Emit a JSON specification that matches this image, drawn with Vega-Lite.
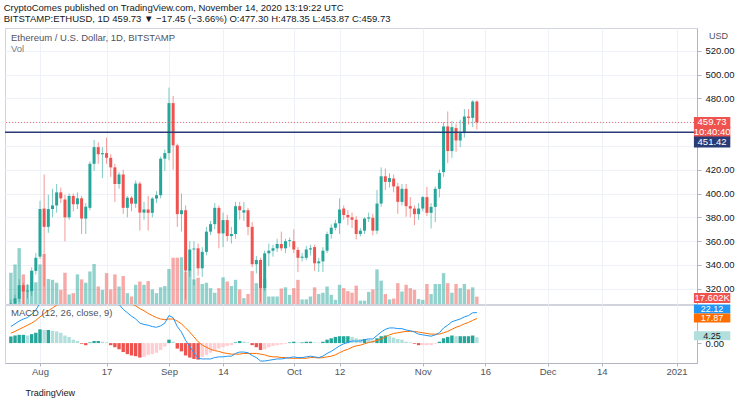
{
  "$schema": "https://vega.github.io/schema/vega-lite/v6.json",
  "background": "white",
  "padding": {"left": 3, "top": 2, "right": 0, "bottom": 0},
  "config": {
    "font": "Liberation Sans Narrow, Liberation Sans, sans-serif",
    "view": {"stroke": "#d1d4dc"},
    "axis": {"labelFont": "Liberation Sans Narrow, Liberation Sans, sans-serif", "titleFont": "Liberation Sans Narrow, Liberation Sans, sans-serif", "labelOverlap": false}
  },
  "title": {
    "text": "CryptoComes published on TradingView.com, November 14, 2020 13:19:22 UTC",
    "subtitle": "BITSTAMP:ETHUSD, 1D  459.73 ▼ −17.45 (−3.66%)  O:477.30  H:478.35  L:453.87  C:459.73",
    "anchor": "start",
    "fontSize": 9.5,
    "fontWeight": "normal",
    "color": "#131722",
    "subtitleFontSize": 9.5,
    "subtitleColor": "#131722",
    "subtitlePadding": 2,
    "offset": 4
  },
  "spacing": -5,
  "datasets": {
    "eth": [
      {"d":"2020-07-25","o":304,"h":311,"l":301,"c":307.5,"v":75,"m":12,"s":7.2,"hi":4.8},
      {"d":"2020-07-26","o":307.5,"h":315,"l":305,"c":312,"v":95,"m":14,"s":8.5,"hi":5.5},
      {"d":"2020-07-27","o":311.6,"h":328,"l":309,"c":323,"v":134,"m":16,"s":10,"hi":6},
      {"d":"2020-07-28","o":323,"h":325,"l":307,"c":317.7,"v":71,"m":17.5,"s":11.5,"hi":6},
      {"d":"2020-07-29","o":317.7,"h":324,"l":312,"c":318.5,"v":46,"m":18.5,"s":13,"hi":5.5},
      {"d":"2020-07-30","o":318,"h":338,"l":314,"c":335,"v":80,"m":21,"s":14.5,"hi":6.5},
      {"d":"2020-07-31","o":335,"h":350,"l":332,"c":346,"v":52,"m":24,"s":16.5,"hi":7.5},
      {"d":"2020-08-01","o":347,"h":394,"l":345,"c":387,"v":95,"m":29,"s":19,"hi":10},
      {"d":"2020-08-02","o":387.4,"h":416,"l":322,"c":372,"v":120,"m":31,"s":21.5,"hi":9.5},
      {"d":"2020-08-03","o":372,"h":399,"l":367,"c":387,"v":60,"m":33,"s":23.5,"hi":9.5},
      {"d":"2020-08-04","o":387,"h":404,"l":380,"c":390,"v":58,"m":34.5,"s":25.5,"hi":9},
      {"d":"2020-08-05","o":390,"h":408,"l":384,"c":401,"v":51,"m":36,"s":27.5,"hi":8.5},
      {"d":"2020-08-06","o":401,"h":405,"l":392,"c":396,"v":34,"m":36.5,"s":29,"hi":7.5},
      {"d":"2020-08-07","o":395,"h":399,"l":360,"c":380,"v":75,"m":35.5,"s":30,"hi":5.5},
      {"d":"2020-08-08","o":380,"h":400,"l":378,"c":398,"v":23,"m":35.5,"s":31,"hi":4.5},
      {"d":"2020-08-09","o":398,"h":400,"l":385,"c":391,"v":26,"m":34.5,"s":32,"hi":2.5},
      {"d":"2020-08-10","o":391,"h":401,"l":387,"c":396,"v":71,"m":34,"s":32.5,"hi":1.5},
      {"d":"2020-08-11","o":396,"h":398,"l":366,"c":379,"v":59,"m":32,"s":32.5,"hi":-0.5},
      {"d":"2020-08-12","o":379,"h":392,"l":366,"c":389,"v":51,"m":31,"s":32.5,"hi":-1.5},
      {"d":"2020-08-13","o":388,"h":427,"l":386,"c":425,"v":78,"m":33,"s":32.5,"hi":0.5},
      {"d":"2020-08-14","o":425,"h":445,"l":419,"c":439,"v":96,"m":34.5,"s":33,"hi":1.5},
      {"d":"2020-08-15","o":439,"h":443,"l":425,"c":433,"v":42,"m":35,"s":33.5,"hi":1.5},
      {"d":"2020-08-16","o":433,"h":439,"l":413,"c":434,"v":34,"m":34.5,"s":33.5,"hi":1},
      {"d":"2020-08-17","o":434,"h":447,"l":425,"c":430,"v":74,"m":34,"s":33.5,"hi":0.5},
      {"d":"2020-08-18","o":430,"h":433,"l":414,"c":422,"v":35,"m":32,"s":33.5,"hi":-1.5},
      {"d":"2020-08-19","o":422,"h":425,"l":393,"c":408,"v":71,"m":30,"s":33,"hi":-3},
      {"d":"2020-08-20","o":408,"h":418,"l":404,"c":416,"v":42,"m":28,"s":32.5,"hi":-4.5},
      {"d":"2020-08-21","o":416,"h":420,"l":383,"c":388,"v":67,"m":24.5,"s":31,"hi":-6.5},
      {"d":"2020-08-22","o":388,"h":398,"l":380,"c":396.5,"v":26,"m":22,"s":30,"hi":-8},
      {"d":"2020-08-23","o":396.5,"h":398,"l":385,"c":391.5,"v":18,"m":19.5,"s":28.5,"hi":-9},
      {"d":"2020-08-24","o":391.5,"h":411,"l":388,"c":408.4,"v":46,"m":17.5,"s":27,"hi":-9.5},
      {"d":"2020-08-25","o":408.4,"h":410,"l":369,"c":384,"v":54,"m":14.5,"s":25,"hi":-10.5},
      {"d":"2020-08-26","o":384,"h":393,"l":378,"c":386.6,"v":46,"m":13.5,"s":23.5,"hi":-10},
      {"d":"2020-08-27","o":386.6,"h":398,"l":369,"c":383.8,"v":55,"m":13,"s":21.5,"hi":-8.5},
      {"d":"2020-08-28","o":383.8,"h":397,"l":380,"c":395.8,"v":35,"m":12,"s":20,"hi":-8},
      {"d":"2020-08-29","o":395.8,"h":402,"l":392,"c":398.6,"v":26,"m":11.5,"s":18.5,"hi":-7},
      {"d":"2020-08-30","o":398.6,"h":431,"l":396,"c":429.3,"v":40,"m":12.5,"s":17.5,"hi":-5},
      {"d":"2020-08-31","o":429.3,"h":437,"l":419,"c":434,"v":43,"m":14.5,"s":17,"hi":-2.5},
      {"d":"2020-09-01","o":434,"h":489,"l":428,"c":476,"v":84,"m":20,"s":17.5,"hi":2.5},
      {"d":"2020-09-02","o":476,"h":482,"l":420,"c":440.5,"v":111,"m":18.5,"s":17.5,"hi":1},
      {"d":"2020-09-03","o":440.5,"h":442,"l":372,"c":382.7,"v":111,"m":12,"s":16,"hi":-4},
      {"d":"2020-09-04","o":382.7,"h":400,"l":368,"c":386,"v":112,"m":8,"s":14,"hi":-6},
      {"d":"2020-09-05","o":386,"h":390,"l":311,"c":335.3,"v":78,"m":2,"s":11,"hi":-9},
      {"d":"2020-09-06","o":335.3,"h":360,"l":330,"c":353,"v":83,"m":-2.5,"s":8,"hi":-10.5},
      {"d":"2020-09-07","o":353,"h":360,"l":323,"c":353.8,"v":59,"m":-7,"s":4.5,"hi":-11.5},
      {"d":"2020-09-08","o":354,"h":358,"l":331,"c":337.2,"v":63,"m":-11,"s":1,"hi":-12},
      {"d":"2020-09-09","o":337.2,"h":355,"l":330,"c":351,"v":48,"m":-11.5,"s":-1.5,"hi":-10},
      {"d":"2020-09-10","o":351,"h":372,"l":348,"c":368,"v":51,"m":-11.5,"s":-3,"hi":-8.5},
      {"d":"2020-09-11","o":368,"h":377,"l":365,"c":374.3,"v":38,"m":-11.5,"s":-4.5,"hi":-7},
      {"d":"2020-09-12","o":374.3,"h":392,"l":370,"c":388,"v":27,"m":-10.5,"s":-5.5,"hi":-5},
      {"d":"2020-09-13","o":388,"h":390,"l":354,"c":366.5,"v":38,"m":-10,"s":-6,"hi":-4},
      {"d":"2020-09-14","o":366.5,"h":384,"l":355,"c":377.7,"v":64,"m":-10,"s":-7,"hi":-3},
      {"d":"2020-09-15","o":377.7,"h":382,"l":360,"c":364.3,"v":54,"m":-9.5,"s":-7.5,"hi":-2},
      {"d":"2020-09-16","o":364.3,"h":372,"l":358,"c":366,"v":43,"m":-9.5,"s":-8,"hi":-1.5},
      {"d":"2020-09-17","o":366,"h":393,"l":362,"c":389.4,"v":58,"m":-7.5,"s":-8,"hi":0.5},
      {"d":"2020-09-18","o":389.4,"h":393,"l":378,"c":386,"v":35,"m":-6.5,"s":-8,"hi":1.5},
      {"d":"2020-09-19","o":384,"h":393,"l":377,"c":386,"v":14,"m":-6.5,"s":-7.5,"hi":1},
      {"d":"2020-09-20","o":386,"h":388,"l":365,"c":372,"v":24,"m":-7,"s":-7.5,"hi":0.5},
      {"d":"2020-09-21","o":372,"h":376,"l":338,"c":340.6,"v":79,"m":-9,"s":-7.5,"hi":-1.5},
      {"d":"2020-09-22","o":340.6,"h":347.5,"l":333,"c":344.2,"v":50,"m":-10.5,"s":-7.5,"hi":-3},
      {"d":"2020-09-23","o":344.2,"h":346,"l":309,"c":320.5,"v":38,"m":-13,"s":-8,"hi":-5},
      {"d":"2020-09-24","o":320.5,"h":352,"l":318,"c":349.8,"v":60,"m":-13,"s":-8.5,"hi":-4.5},
      {"d":"2020-09-25","o":349.8,"h":358,"l":339,"c":352,"v":18,"m":-12.5,"s":-9.5,"hi":-3},
      {"d":"2020-09-26","o":352,"h":357,"l":347,"c":354,"v":18,"m":-12,"s":-10,"hi":-2},
      {"d":"2020-09-27","o":354,"h":362,"l":351,"c":357.6,"v":18,"m":-11.5,"s":-10,"hi":-1.5},
      {"d":"2020-09-28","o":357.6,"h":368,"l":352,"c":354,"v":37,"m":-11.5,"s":-10.5,"hi":-1},
      {"d":"2020-09-29","o":354,"h":362,"l":350,"c":360,"v":40,"m":-11,"s":-10.5,"hi":-0.5},
      {"d":"2020-09-30","o":360,"h":363,"l":355,"c":360.8,"v":22,"m":-10.5,"s":-11,"hi":0.5},
      {"d":"2020-10-01","o":360,"h":370,"l":350,"c":353,"v":38,"m":-10,"s":-11,"hi":1},
      {"d":"2020-10-02","o":352.6,"h":355,"l":334,"c":346,"v":58,"m":-10.5,"s":-11,"hi":0.5},
      {"d":"2020-10-03","o":346,"h":350,"l":343,"c":347,"v":11,"m":-10.5,"s":-11,"hi":0.5},
      {"d":"2020-10-04","o":346,"h":356,"l":344,"c":353,"v":11,"m":-10,"s":-11,"hi":1},
      {"d":"2020-10-05","o":353,"h":357,"l":348,"c":354,"v":18,"m":-9.5,"s":-10.5,"hi":1},
      {"d":"2020-10-06","o":355,"h":357,"l":335,"c":341.4,"v":40,"m":-10,"s":-10.5,"hi":0.5},
      {"d":"2020-10-07","o":341.4,"h":346,"l":334,"c":343,"v":24,"m":-10.5,"s":-10.8,"hi":0.3},
      {"d":"2020-10-08","o":343,"h":355,"l":334,"c":352,"v":27,"m":-9.5,"s":-10.5,"hi":1},
      {"d":"2020-10-09","o":352,"h":368,"l":350,"c":366,"v":42,"m":-7.5,"s":-10,"hi":2.5},
      {"d":"2020-10-10","o":366,"h":374,"l":362,"c":371.3,"v":22,"m":-6,"s":-9.5,"hi":3.5},
      {"d":"2020-10-11","o":371.3,"h":378,"l":369,"c":375,"v":10,"m":-4,"s":-8.5,"hi":4.5},
      {"d":"2020-10-12","o":375,"h":396,"l":366,"c":386.6,"v":46,"m":-2,"s":-7,"hi":5},
      {"d":"2020-10-13","o":387.4,"h":390,"l":378,"c":382,"v":38,"m":-0.5,"s":-5.5,"hi":5},
      {"d":"2020-10-14","o":382,"h":386,"l":373.5,"c":380,"v":31,"m":0.5,"s":-4.5,"hi":5},
      {"d":"2020-10-15","o":380,"h":384,"l":371,"c":378,"v":27,"m":1.5,"s":-3,"hi":4.5},
      {"d":"2020-10-16","o":378,"h":381,"l":361.5,"c":366,"v":44,"m":1.5,"s":-2,"hi":3.5},
      {"d":"2020-10-17","o":366,"h":371,"l":364,"c":368.8,"v":8,"m":1.5,"s":-1.5,"hi":3},
      {"d":"2020-10-18","o":368.8,"h":380,"l":366,"c":379,"v":8,"m":2.5,"s":-0.5,"hi":3},
      {"d":"2020-10-19","o":379,"h":384,"l":376,"c":380,"v":29,"m":3,"s":0.5,"hi":2.5},
      {"d":"2020-10-20","o":379.6,"h":383,"l":365,"c":368.8,"v":35,"m":3,"s":1,"hi":2},
      {"d":"2020-10-21","o":368.8,"h":403,"l":366,"c":391.6,"v":83,"m":5.5,"s":2,"hi":3.5},
      {"d":"2020-10-22","o":391.6,"h":422,"l":389,"c":414.5,"v":56,"m":8,"s":3,"hi":5},
      {"d":"2020-10-23","o":414.5,"h":421,"l":403,"c":409.8,"v":24,"m":10,"s":4.5,"hi":5.5},
      {"d":"2020-10-24","o":409.8,"h":417,"l":405,"c":413,"v":11,"m":11,"s":6,"hi":5},
      {"d":"2020-10-25","o":412.6,"h":416,"l":401,"c":406,"v":13,"m":11,"s":7,"hi":4},
      {"d":"2020-10-26","o":406,"h":409,"l":383,"c":393,"v":50,"m":10.5,"s":7.5,"hi":3},
      {"d":"2020-10-27","o":393,"h":408,"l":390,"c":404,"v":30,"m":10.5,"s":8,"hi":2.5},
      {"d":"2020-10-28","o":404,"h":408,"l":380.5,"c":389.4,"v":46,"m":9.5,"s":8.5,"hi":1},
      {"d":"2020-10-29","o":389.4,"h":397,"l":380,"c":387.4,"v":38,"m":9,"s":8.5,"hi":0.5},
      {"d":"2020-10-30","o":387.4,"h":390,"l":373.5,"c":382.7,"v":34,"m":8,"s":8.5,"hi":-0.5},
      {"d":"2020-10-31","o":382.7,"h":392,"l":378,"c":387.4,"v":12,"m":6.5,"s":8,"hi":-1.5},
      {"d":"2020-11-01","o":387.4,"h":398,"l":385,"c":397,"v":10,"m":6,"s":7.5,"hi":-1.5},
      {"d":"2020-11-02","o":397,"h":405.6,"l":381,"c":383.8,"v":48,"m":5.5,"s":7,"hi":-1.5},
      {"d":"2020-11-03","o":383.8,"h":392,"l":370.7,"c":388.8,"v":24,"m":5,"s":6.5,"hi":-1.5},
      {"d":"2020-11-04","o":388.8,"h":406,"l":376,"c":404,"v":48,"m":6,"s":6.5,"hi":-0.5},
      {"d":"2020-11-05","o":404,"h":420,"l":396.7,"c":417.3,"v":48,"m":7.5,"s":6.5,"hi":1},
      {"d":"2020-11-06","o":418,"h":460,"l":414,"c":456.4,"v":74,"m":11,"s":7.5,"hi":3.5},
      {"d":"2020-11-07","o":456.4,"h":469,"l":425.7,"c":435.7,"v":50,"m":13,"s":8.5,"hi":4.5},
      {"d":"2020-11-08","o":435.7,"h":460.8,"l":430,"c":455.8,"v":27,"m":15.5,"s":10,"hi":5.5},
      {"d":"2020-11-09","o":455,"h":458.6,"l":435,"c":444.6,"v":48,"m":16.5,"s":11.5,"hi":5},
      {"d":"2020-11-10","o":444.6,"h":462,"l":439,"c":450.8,"v":38,"m":17.5,"s":12.5,"hi":5},
      {"d":"2020-11-11","o":450.8,"h":471,"l":447,"c":464.7,"v":48,"m":19,"s":14,"hi":5},
      {"d":"2020-11-12","o":464.7,"h":471,"l":458,"c":463.6,"v":35,"m":20,"s":15,"hi":5},
      {"d":"2020-11-13","o":463.6,"h":478.5,"l":455.8,"c":477.3,"v":40,"m":22,"s":16.5,"hi":5.5},
      {"d":"2020-11-14","o":477.3,"h":478.35,"l":453.87,"c":459.73,"v":17.602,"m":22.12,"s":17.87,"hi":4.25}
    ]
  },
  "vconcat": [
    {
      "width": 692,
      "height": 276,
      "data": {"name": "eth"},
      "title": {
        "text": "Ethereum / U.S. Dollar, 1D, BITSTAMP",
        "subtitle": "Vol",
        "anchor": "start",
        "frame": "group",
        "orient": "top",
        "offset": -25,
        "dx": 6,
        "fontSize": 9.5,
        "fontWeight": "normal",
        "color": "#50535e",
        "subtitleFontSize": 9.5,
        "subtitleColor": "#787b86",
        "subtitlePadding": 1
      },
      "layer": [
        {
          "mark": {"type": "bar", "size": 3.4, "opacity": 0.5, "clip": true},
          "encoding": {
            "x": {"field": "d", "type": "temporal",
              "scale": {"type": "utc", "domain": [{"year": 2020, "month": 7, "date": 24, "hours": 19, "utc": true}, {"year": 2021, "month": 1, "date": 4, "hours": 17, "utc": true}]},
              "axis": {"orient": "bottom", "values": [{"year":2020,"month":8,"date":1,"utc":true},{"year":2020,"month":8,"date":17,"utc":true},{"year":2020,"month":9,"date":1,"utc":true},{"year":2020,"month":9,"date":14,"utc":true},{"year":2020,"month":10,"date":1,"utc":true},{"year":2020,"month":10,"date":12,"utc":true},{"year":2020,"month":11,"date":1,"utc":true},{"year":2020,"month":11,"date":16,"utc":true},{"year":2020,"month":12,"date":1,"utc":true},{"year":2020,"month":12,"date":14,"utc":true},{"year":2021,"month":1,"date":1,"utc":true}],
                "tickCount": 30, "labels": false, "ticks": false, "domain": false, "grid": true, "gridColor": "#eef1f7", "title": null, "minExtent": 0, "maxExtent": 0, "offset": 0}
            },
            "y": {"field": "v", "type": "quantitative", "scale": {"domain": [0, 662], "nice": false, "zero": true}, "axis": null},
            "color": {"condition": {"test": "datum.c >= datum.o", "value": "#26a69a"}, "value": "#ef5350"}
          }
        },
        {
          "layer": [
            {
              "mark": {"type": "rule", "strokeWidth": 1, "opacity": 0.6, "clip": true},
              "encoding": {
                "x": {"field": "d", "type": "temporal"},
                "y": {"field": "l", "type": "quantitative", "title": "USD",
                  "scale": {"domain": [307.2, 539.1], "nice": false, "zero": false},
                  "axis": {"orient": "right", "values": [320, 340, 360, 380, 400, 420, 440, 460, 480, 500, 520],
                    "tickCount": 30,
                    "labelExpr": "datum.value == 440 || datum.value == 460 ? '' : format(datum.value, '.2f')",
                    "labelOverlap": false,
                    "grid": true, "gridColor": "#eef1f7", "tickColor": "#b2b5be", "tickSize": 4, "domainColor": "#b2b5be",
                    "labelFontSize": 9.5, "labelColor": "#131722", "labelPadding": 4,
                    "titleAngle": 0, "titleAlign": "center", "titleBaseline": "middle", "titleX": 21, "titleY": 7,
                    "titleFontSize": 9, "titleFontWeight": "normal", "titleColor": "#50535e"}
                },
                "y2": {"field": "h"},
                "color": {"condition": {"test": "datum.c >= datum.o", "value": "#26a69a"}, "value": "#ef5350"}
              }
            },
            {
              "mark": {"type": "bar", "size": 3, "clip": true},
              "encoding": {
                "x": {"field": "d", "type": "temporal"},
                "y": {"field": "o", "type": "quantitative"},
                "y2": {"field": "c"},
                "color": {"condition": {"test": "datum.c >= datum.o", "value": "#26a69a"}, "value": "#ef5350"}
              }
            },
            {
              "data": {"values": [{}]},
              "mark": {"type": "rule", "color": "#ef5350", "strokeDash": [1, 2], "opacity": 0.8, "strokeWidth": 1},
              "encoding": {"y": {"datum": 459.73}}
            },
            {
              "data": {"values": [{}]},
              "mark": {"type": "rule", "color": "#283b74", "strokeWidth": 1.5},
              "encoding": {"y": {"datum": 451.42}}
            },
            {
              "data": {"values": [{}]},
              "mark": {"type": "rule", "strokeWidth": 11, "strokeCap": "butt", "color": "#ef5350", "clip": false},
              "encoding": {"x": {"datum": {"year": 2021, "month": 1, "date": 5, "hours": 4, "utc": true}, "type": "temporal"}, "x2": {"datum": {"year": 2021, "month": 1, "date": 13, "hours": 22, "utc": true}}, "y": {"datum": 459.73}}
            },
            {
              "data": {"values": [{}]},
              "mark": {"type": "text", "text": "459.73", "color": "white", "fontSize": 9.5, "align": "center", "baseline": "middle"},
              "encoding": {"x": {"datum": {"year": 2021, "month": 1, "date": 9, "hours": 13, "utc": true}, "type": "temporal"}, "y": {"datum": 459.73}}
            },
            {
              "data": {"values": [{}]},
              "mark": {"type": "rule", "strokeWidth": 11, "strokeCap": "butt", "color": "#ef5350", "clip": false},
              "encoding": {"x": {"datum": {"year": 2021, "month": 1, "date": 5, "hours": 4, "utc": true}, "type": "temporal"}, "x2": {"datum": {"year": 2021, "month": 1, "date": 13, "hours": 22, "utc": true}}, "y": {"datum": 451.6}}
            },
            {
              "data": {"values": [{}]},
              "mark": {"type": "text", "text": "10:40:40", "color": "white", "fontSize": 9.5, "align": "center", "baseline": "middle"},
              "encoding": {"x": {"datum": {"year": 2021, "month": 1, "date": 9, "hours": 13, "utc": true}, "type": "temporal"}, "y": {"datum": 451.6}}
            },
            {
              "data": {"values": [{}]},
              "mark": {"type": "rule", "strokeWidth": 11, "strokeCap": "butt", "color": "#283b74", "clip": false},
              "encoding": {"x": {"datum": {"year": 2021, "month": 1, "date": 5, "hours": 4, "utc": true}, "type": "temporal"}, "x2": {"datum": {"year": 2021, "month": 1, "date": 13, "hours": 22, "utc": true}}, "y": {"datum": 443.3}}
            },
            {
              "data": {"values": [{}]},
              "mark": {"type": "text", "text": "451.42", "color": "white", "fontSize": 9.5, "align": "center", "baseline": "middle"},
              "encoding": {"x": {"datum": {"year": 2021, "month": 1, "date": 9, "hours": 13, "utc": true}, "type": "temporal"}, "y": {"datum": 443.3}}
            },
            {
              "data": {"values": [{}]},
              "mark": {"type": "rule", "strokeWidth": 10, "strokeCap": "butt", "color": "#ef5350", "clip": false},
              "encoding": {"x": {"datum": {"year": 2021, "month": 1, "date": 5, "hours": 4, "utc": true}, "type": "temporal"}, "x2": {"datum": {"year": 2021, "month": 1, "date": 13, "hours": 22, "utc": true}}, "y": {"datum": 312.3}}
            },
            {
              "data": {"values": [{}]},
              "mark": {"type": "text", "text": "17.602K", "color": "white", "fontSize": 9.5, "align": "center", "baseline": "middle"},
              "encoding": {"x": {"datum": {"year": 2021, "month": 1, "date": 9, "hours": 13, "utc": true}, "type": "temporal"}, "y": {"datum": 312.3}}
            }
          ]
        }
      ],
      "resolve": {"scale": {"y": "independent"}}
    },
    {
      "width": 692,
      "height": 58,
      "data": {"name": "eth"},
      "title": {
        "text": "MACD (12, 26, close, 9)",
        "anchor": "start",
        "frame": "group",
        "orient": "top",
        "offset": -13,
        "dx": 6,
        "fontSize": 9.5,
        "fontWeight": "normal",
        "color": "#50535e"
      },
      "transform": [{"window": [{"op": "lag", "field": "hi", "as": "prev"}], "sort": [{"field": "d"}]}],
      "layer": [
        {
          "mark": {"type": "bar", "size": 3.4, "clip": true},
          "encoding": {
            "x": {"field": "d", "type": "temporal",
              "scale": {"type": "utc", "domain": [{"year": 2020, "month": 7, "date": 24, "hours": 19, "utc": true}, {"year": 2021, "month": 1, "date": 4, "hours": 17, "utc": true}]},
              "axis": {"orient": "bottom", "values": [{"year":2020,"month":8,"date":1,"utc":true},{"year":2020,"month":8,"date":17,"utc":true},{"year":2020,"month":9,"date":1,"utc":true},{"year":2020,"month":9,"date":14,"utc":true},{"year":2020,"month":10,"date":1,"utc":true},{"year":2020,"month":10,"date":12,"utc":true},{"year":2020,"month":11,"date":1,"utc":true},{"year":2020,"month":11,"date":16,"utc":true},{"year":2020,"month":12,"date":1,"utc":true},{"year":2020,"month":12,"date":14,"utc":true},{"year":2021,"month":1,"date":1,"utc":true}],
                "tickCount": 30,
                "labelExpr": "utcdate(datum.value) == 1 ? (utcmonth(datum.value) == 0 ? utcFormat(datum.value, '%Y') : utcFormat(datum.value, '%b')) : utcFormat(datum.value, '%-d')",
                "grid": true, "gridColor": "#eef1f7", "domainColor": "#b2b5be", "tickColor": "#b2b5be", "tickSize": 3,
                "labelFontSize": 9.5, "labelColor": "#50535e", "labelPadding": 0,
                "title": "TradingView", "titleAnchor": "start", "titleAlign": "left", "titleBaseline": "middle",
                "titleX": 20, "titleY": 29, "titleFontSize": 9, "titleFontWeight": "normal", "titleColor": "#131722"}
            },
            "y": {"field": "hi", "type": "quantitative", "title": null,
              "scale": {"domain": [-14.44, 27.65], "nice": false, "zero": false},
              "axis": {"orient": "right", "values": [0], "format": ".2f", "grid": false, "tickColor": "#b2b5be", "tickSize": 4, "domainColor": "#b2b5be", "labelFontSize": 9.5, "labelColor": "#131722", "labelPadding": 4}
            },
            "y2": {"datum": 0},
            "color": {
              "condition": [
                {"test": "datum.hi >= 0 && (datum.prev == null || datum.hi >= datum.prev)", "value": "#26a69a"},
                {"test": "datum.hi >= 0", "value": "#b2dfdb"},
                {"test": "datum.hi < datum.prev", "value": "#ef5350"}
              ],
              "value": "#ffcdd2"
            }
          }
        },
        {
          "mark": {"type": "line", "color": "#ff6d00", "strokeWidth": 1, "clip": true},
          "encoding": {"x": {"field": "d", "type": "temporal"}, "y": {"field": "s", "type": "quantitative"}}
        },
        {
          "mark": {"type": "line", "color": "#2196f3", "strokeWidth": 1, "clip": true},
          "encoding": {"x": {"field": "d", "type": "temporal"}, "y": {"field": "m", "type": "quantitative"}}
        },
        {
          "data": {"values": [{}]},
          "mark": {"type": "rule", "strokeWidth": 9, "strokeCap": "butt", "color": "#2196f3", "clip": false},
          "encoding": {"x": {"datum": {"year": 2021, "month": 1, "date": 5, "hours": 4, "utc": true}, "type": "temporal"}, "x2": {"datum": {"year": 2021, "month": 1, "date": 13, "hours": 22, "utc": true}}, "y": {"datum": 24.8}}
        },
        {
          "data": {"values": [{}]},
          "mark": {"type": "text", "text": "22.12", "color": "white", "fontSize": 9, "align": "center", "baseline": "middle"},
          "encoding": {"x": {"datum": {"year": 2021, "month": 1, "date": 9, "hours": 13, "utc": true}, "type": "temporal"}, "y": {"datum": 24.8}}
        },
        {
          "data": {"values": [{}]},
          "mark": {"type": "rule", "strokeWidth": 9, "strokeCap": "butt", "color": "#ff6d00", "clip": false},
          "encoding": {"x": {"datum": {"year": 2021, "month": 1, "date": 5, "hours": 4, "utc": true}, "type": "temporal"}, "x2": {"datum": {"year": 2021, "month": 1, "date": 13, "hours": 22, "utc": true}}, "y": {"datum": 18.3}}
        },
        {
          "data": {"values": [{}]},
          "mark": {"type": "text", "text": "17.87", "color": "white", "fontSize": 9, "align": "center", "baseline": "middle"},
          "encoding": {"x": {"datum": {"year": 2021, "month": 1, "date": 9, "hours": 13, "utc": true}, "type": "temporal"}, "y": {"datum": 18.3}}
        },
        {
          "data": {"values": [{}]},
          "mark": {"type": "rule", "strokeWidth": 9, "strokeCap": "butt", "color": "#b2dfdb", "clip": false},
          "encoding": {"x": {"datum": {"year": 2021, "month": 1, "date": 5, "hours": 4, "utc": true}, "type": "temporal"}, "x2": {"datum": {"year": 2021, "month": 1, "date": 13, "hours": 22, "utc": true}}, "y": {"datum": 5.3}}
        },
        {
          "data": {"values": [{}]},
          "mark": {"type": "text", "text": "4.25", "color": "#131722", "fontSize": 9, "align": "center", "baseline": "middle"},
          "encoding": {"x": {"datum": {"year": 2021, "month": 1, "date": 9, "hours": 13, "utc": true}, "type": "temporal"}, "y": {"datum": 5.3}}
        }
      ]
    }
  ]
}
